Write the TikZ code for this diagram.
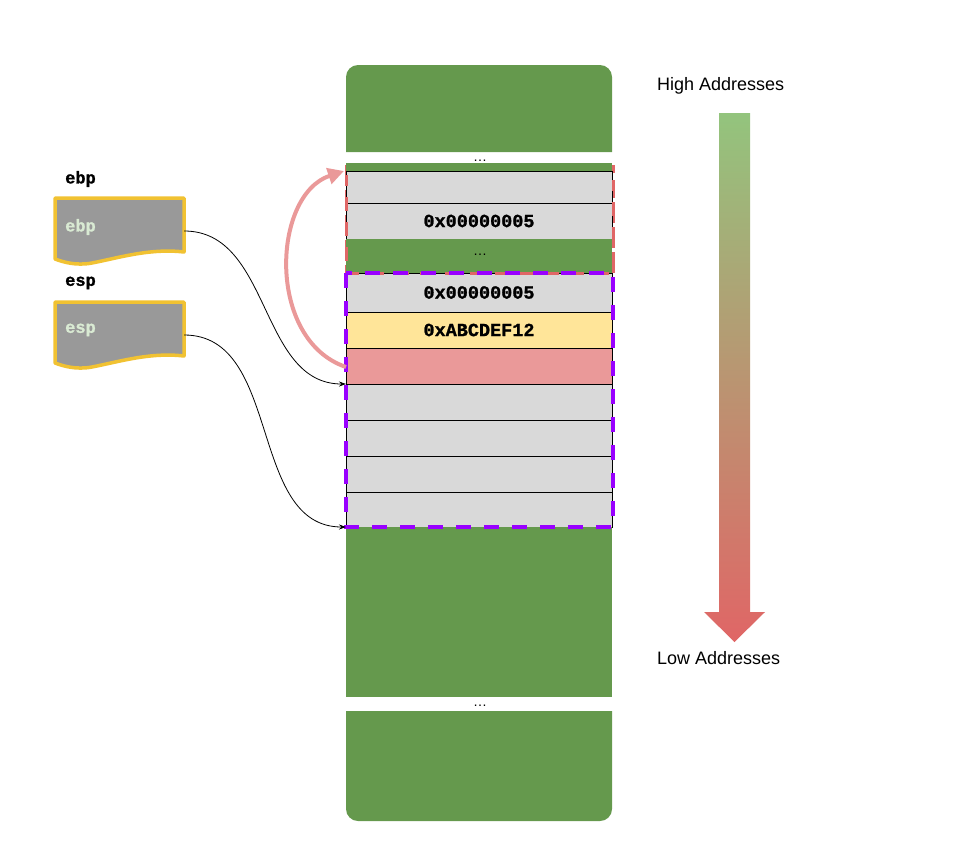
\documentclass[tikz,border=0pt]{standalone}
\usepackage{fontspec}
\setmainfont{Liberation Sans}
\newfontfamily\hexfont{Liberation Mono}[BoldFeatures={FakeBold=1.2}]
\usetikzlibrary{arrows.meta}
\definecolor{stackgreen}{RGB}{101,153,77}
\definecolor{cellgray}{HTML}{D9D9D9}
\definecolor{cellyellow}{HTML}{FFE599}
\definecolor{cellpink}{HTML}{EA9999}
\definecolor{regfill}{HTML}{999999}
\definecolor{reggold}{HTML}{F1C232}
\definecolor{regtext}{HTML}{D9EAD3}
\definecolor{framered}{HTML}{E06666}
\definecolor{framepurple}{HTML}{9900FF}
\definecolor{arrowtop}{HTML}{93C47D}
\definecolor{arrowbottom}{HTML}{E06666}
\begin{document}
\begin{tikzpicture}[x=1pt,y=-1pt,
  cell/.style={anchor=north west, minimum width=266pt, inner sep=0pt, outer sep=0pt,
    draw=black, line width=0.8pt, font=\hexfont\bfseries\fontsize{18.5}{20}\selectfont},
  greencell/.style={anchor=north west, minimum width=266pt, inner sep=0pt, outer sep=0pt,
    fill=stackgreen, draw=none},
  dots/.style={inner sep=0pt, font=\fontsize{14}{14}\selectfont},
  reglabel/.style={anchor=west, inner sep=0pt, font=\hexfont\bfseries\fontsize{17}{18}\selectfont},
  regname/.style={anchor=west, inner sep=0pt, text=regtext, font=\hexfont\bfseries\fontsize{17}{18}\selectfont},
  regbox/.style={fill=regfill, draw=reggold, line width=3.5pt, line join=round},
  addr/.style={anchor=west, inner sep=0pt, font=\fontsize{18}{20}\selectfont},
  ptr/.style={-{Stealth[length=7pt,width=5pt]}, line width=0.8pt, black},
]
\useasboundingbox (0,0) rectangle (961,863);

% top green block
\fill[stackgreen, rounded corners=12pt] (346,152) -- (346,65) -- (612,65) -- (612,152);
\node[dots] (dtop) at (480,161) {…};

% red frame (under)
\draw[framered, line width=3pt, dash pattern=on 14pt off 11pt] (346,165) -- (346,273) -- (613,273) -- (613,165);

% stack cells
\node[greencell, minimum height=8pt] (strip) at (346,163) {};
\node[cell, fill=cellgray, minimum height=32pt] (g0) at (346,171) {};
\node[cell, fill=cellgray, minimum height=36pt] (v1) at (346,203) {0x00000005};
\node[greencell, minimum height=34pt] (gdots) at (346,239) {};
\node[dots] (dmid) at (480,255) {…};
\node[cell, fill=cellgray, minimum height=39pt] (v2) at (346,273) {0x00000005};
\node[cell, fill=cellyellow, minimum height=36pt] (ret) at (346,312) {0xABCDEF12};
\node[cell, fill=cellpink, minimum height=36pt] (saved) at (346,348) {};
\node[cell, fill=cellgray, minimum height=36pt] (g1) at (346,384) {};
\node[cell, fill=cellgray, minimum height=36pt] (g2) at (346,420) {};
\node[cell, fill=cellgray, minimum height=36pt] (g3) at (346,456) {};
\node[cell, fill=cellgray, minimum height=35pt] (g4) at (346,492) {};
\node[greencell, minimum height=170pt] (gbot) at (346,527) {};
\node[dots] (dbot) at (480,706) {…};
\fill[stackgreen, rounded corners=12pt] (346,711) -- (346,821) -- (612,821) -- (612,711);

% red frame visible dashes + purple frame
\draw[framered, line width=3pt, dash pattern=on 14pt off 11pt, dash phase=3pt] (346,175) -- (346,273) -- (613,273) -- (613,180);
\draw[framepurple, line width=3.5pt, dash pattern=on 15pt off 13pt] (346,273) rectangle (613,527);

% registers
\node[reglabel] (ebplabel) at (65,179) {ebp};
\path[regbox] (55,198) -- (184,198) -- (184,252)
  .. controls (150,248) and (118,258) .. (92,263)
  .. controls (76,266) and (63,262) .. (55,259) -- cycle;
\node[minimum width=129pt, minimum height=66pt, inner sep=0pt] (ebpbox) at (119.5,231) {};
\node[regname] (ebpname) at (65,227) {ebp};

\node[reglabel] (esplabel) at (65,283) {esp};
\path[regbox] (55,302) -- (184,302) -- (184,356)
  .. controls (150,352) and (118,362) .. (92,367)
  .. controls (76,370) and (63,366) .. (55,363) -- cycle;
\node[minimum width=129pt, minimum height=66pt, inner sep=0pt] (espbox) at (119.5,335) {};
\node[regname] (espname) at (65,330) {esp};

% pointers
\draw[ptr] (ebpbox.east) to[out=0, in=180] (saved.south west);
\draw[ptr] (espbox.east) to[out=0, in=180] (g4.south west);

% saved ebp arc
\draw[cellpink, line width=4pt, -{Triangle[length=16pt,width=16pt]}]
  ([yshift=-1pt]saved.west) .. controls (266,340) and (272,195) .. ([xshift=-2pt]strip.south west);

% address gradient arrow
\shade[top color=arrowtop, bottom color=arrowbottom]
  (719,113) -- (750,113) -- (750,612) -- (765,612) -- (734.5,642) -- (704,612) -- (719,612) -- cycle;
\node[addr] (high) at (657,86) {High Addresses};
\node[addr] (low) at (657,658) {Low Addresses};
\end{tikzpicture}
\end{document}
